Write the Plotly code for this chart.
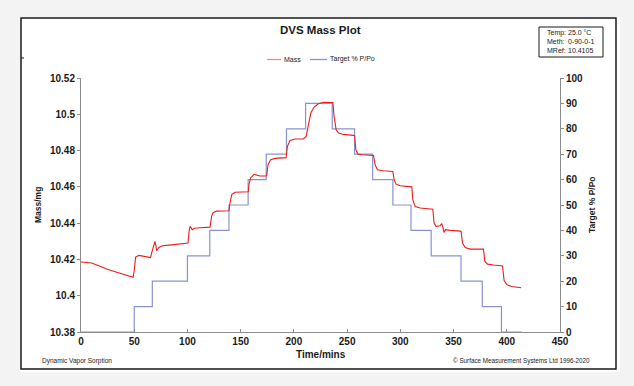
import plotly.graph_objects as go

# ---- data ----
mass_time = [0, 10, 18, 24, 33.5, 43, 49, 50.1, 51.3, 54.4, 60.7, 65.4, 66.3, 68.6, 69.5, 70.5, 71,
             73.2, 76.4, 82.7, 92, 98.3, 100.5, 101.8, 102.5, 104.6, 106.5, 111.8, 120.3,
             121.2, 122.8, 124.3, 127.4, 133.7, 138.4, 139, 140, 141.6, 144.7, 151, 156.3,
             157.2, 157.8, 159.4, 162.5, 168.2, 173.8, 174.5, 175.7, 178.2, 182.3, 192,
             192.7, 193.9, 196.4, 201.1, 208.9, 211.5, 213.7, 215.9, 219, 223, 227.8, 235.6,
             236.6, 237.8, 239.7, 241.9, 246.6, 256, 257, 258.2, 260, 263.8, 274.1,
             274.8, 276.3, 278.5, 284.1, 292, 292.9, 294.2, 296, 299.8, 309.8,
             310.8, 311.7, 313.9, 318.6, 329.6, 330.5, 331.7, 333.6, 337.4, 338.9, 339.9,
             341.1, 342.4, 346.8, 356.2, 357.1, 358.4, 360.9, 365.6, 377.5,
             378.1, 379.4, 381.9, 387.5, 395, 396, 397.5, 400, 404.7, 413.5]
mass_mg = [10.4186, 10.4180, 10.4162, 10.4147, 10.4129, 10.4110, 10.4101, 10.4144, 10.4213, 10.4222,
           10.4217, 10.4210, 10.4235, 10.4287, 10.4299, 10.4272, 10.4248,
           10.4266, 10.4275, 10.4279, 10.4285, 10.4287, 10.4290, 10.4367, 10.4382, 10.4364, 10.4372,
           10.4375, 10.4375,
           10.4378, 10.4441, 10.4459, 10.4466, 10.4468, 10.4466, 10.4468, 10.4511, 10.4557, 10.4570,
           10.4571, 10.4571,
           10.4573, 10.4612, 10.4649, 10.4669, 10.4660, 10.4660, 10.4662, 10.4722, 10.4750, 10.4757,
           10.4759,
           10.4761, 10.4823, 10.4856, 10.4864, 10.4864, 10.4878, 10.4952, 10.5007, 10.5040, 10.5058,
           10.5066, 10.5067,
           10.5065, 10.4988, 10.4915, 10.4897, 10.4889, 10.4884, 10.4882, 10.4805, 10.4781, 10.4777,
           10.4775,
           10.4773, 10.4722, 10.4694, 10.4689, 10.4687, 10.4685, 10.4639, 10.4615, 10.4606, 10.4603,
           10.4600, 10.4529, 10.4492, 10.4483, 10.4479, 10.4477, 10.4400, 10.4382, 10.4386, 10.4397,
           10.4379,
           10.4349, 10.4364, 10.4360, 10.4356, 10.4354, 10.4290, 10.4266, 10.4257, 10.4259,
           10.4257, 10.4189, 10.4174, 10.4169, 10.4166, 10.4164, 10.4084, 10.4061, 10.4051, 10.4044]

target_time = [0, 50, 67, 100, 121, 139, 157, 174, 193, 211, 236, 257, 274, 293, 310, 329, 357, 377,
               395, 414]
target_pct = [0, 10, 20, 30, 40, 50, 60, 70, 80, 90, 80, 70, 60, 50, 40, 30, 20, 10, 0, 0]

mass_ticks = [10.38, 10.40, 10.42, 10.44, 10.46, 10.48, 10.50, 10.52]
mass_ticktext = ["10.38", "10.4", "10.42", "10.44", "10.46", "10.48", "10.5", "10.52"]
info_labels = ["Temp:", "Meth:", "MRef:"]
info_values = ["25.0 °C", "0-90-0-1", "10.4105"]

# ---- geometry helpers (pixel -> paper) ----
W, H = 634, 386
L, R, T, B = 81, 74, 78, 54
PW, PH = W - L - R, H - T - B


def xp(px):
    return (px - L) / PW


def yp(py):
    return (H - B - py) / PH


FONT = "Arial, Liberation Sans, sans-serif"
MASS_C = "#ec1e1e"
TGT_C = "#8a92d2"
AX_C = "#8c8c8c"

fig = go.Figure()
fig.add_trace(go.Scatter(x=target_time, y=target_pct, mode="lines", line_shape="hv",
                         line=dict(color=TGT_C, width=1.2), yaxis="y", name="Target % P/Po",
                         showlegend=False, hoverinfo="skip"))
fig.add_trace(go.Scatter(x=mass_time, y=mass_mg, mode="lines",
                         line=dict(color=MASS_C, width=1.1), yaxis="y2", name="Mass",
                         showlegend=False, hoverinfo="skip"))

shapes = [
    # white card
    dict(type="rect", xref="paper", yref="paper", x0=xp(20), x1=xp(620), y0=yp(372), y1=yp(17),
         fillcolor="white", line=dict(width=0), layer="below"),
    dict(type="rect", xref="paper", yref="paper", x0=xp(21), x1=xp(616), y0=yp(369), y1=yp(18),
         fillcolor="rgba(0,0,0,0)", line=dict(color="#1a1a1a", width=1.5), layer="above"),
    dict(type="line", xref="paper", yref="paper", x0=xp(21), x1=xp(24), y0=yp(58), y1=yp(58),
         line=dict(color="#1a1a1a", width=1)),
    # info box
    dict(type="rect", xref="paper", yref="paper", x0=xp(539), x1=xp(603), y0=yp(57), y1=yp(27),
         fillcolor="white", line=dict(color="#1a1a1a", width=1)),
    # custom legend samples
    dict(type="line", xref="paper", yref="paper", x0=xp(267), x1=xp(281), y0=yp(59.5), y1=yp(59.5),
         line=dict(color="#ef8a78", width=1.3)),
    dict(type="line", xref="paper", yref="paper", x0=xp(310), x1=xp(327), y0=yp(59.5), y1=yp(59.5),
         line=dict(color=TGT_C, width=1.3)),
]

ann = []


def txt(text, x, y, size, bold=False, anchor="left", angle=0, color="#1a1a1a"):
    ann.append(dict(text=("<b>%s</b>" % text) if bold else text, x=xp(x), y=yp(y), xref="paper",
                    yref="paper", showarrow=False, xanchor=anchor, yanchor="middle",
                    textangle=angle, font=dict(family=FONT, size=size, color=color)))


txt("DVS Mass Plot", 320, 30, 11.5, bold=True, anchor="center")
txt("Mass", 282, 59.5, 7)
txt("Target % P/Po", 328, 59.5, 7)
for i, (lab, val) in enumerate(zip(info_labels, info_values)):
    txt(lab, 545, 32.5 + i * 9, 7)
    txt(val, 566, 32.5 + i * 9, 7)
txt("Mass/mg", 38, 205, 8.5, bold=True, anchor="center", angle=-90)
txt("Target % P/Po", 592, 205, 8.5, bold=True, anchor="center", angle=-90)
txt("Time/mins", 321, 354, 10, bold=True, anchor="center")
txt("Dynamic Vapor Sorption", 40, 361, 6.5)
txt("© Surface Measurement Systems Ltd 1996-2020", 592, 361, 6.3, anchor="right")

fig.update_layout(
    width=W, height=H,
    margin=dict(l=L, r=R, t=T, b=B, pad=0),
    paper_bgcolor="#f3f3f3", plot_bgcolor="white",
    showlegend=False,
    font=dict(family=FONT, color="#1a1a1a"),
    xaxis=dict(range=[0, 450], dtick=50, tick0=0, showgrid=False, zeroline=False,
               showline=True, linecolor=AX_C, linewidth=1, ticks="inside", ticklen=3,
               tickcolor=AX_C, tickfont=dict(family=FONT, size=10, color="#1a1a1a", weight="bold")),
    yaxis=dict(range=[0, 100], dtick=10, tick0=0, side="right", showgrid=False, zeroline=False,
               showline=True, linecolor=AX_C, linewidth=1, ticks="outside", ticklen=3,
               tickcolor=AX_C, tickfont=dict(family=FONT, size=10, color="#1a1a1a", weight="bold")),
    yaxis2=dict(range=[10.38, 10.52], tickvals=mass_ticks, ticktext=mass_ticktext, side="left",
                overlaying="y", showgrid=False, zeroline=False, showline=True, linecolor=AX_C,
                linewidth=1, ticks="outside", ticklen=3, tickcolor=AX_C,
                tickfont=dict(family=FONT, size=10, color="#1a1a1a", weight="bold")),
    shapes=shapes,
    annotations=ann,
)

fig.write_html("out.html", config={"displayModeBar": False},
               post_script="document.body.style.margin='0';document.body.style.overflow='hidden';"
                           "document.body.style.background='#f3f3f3';")
